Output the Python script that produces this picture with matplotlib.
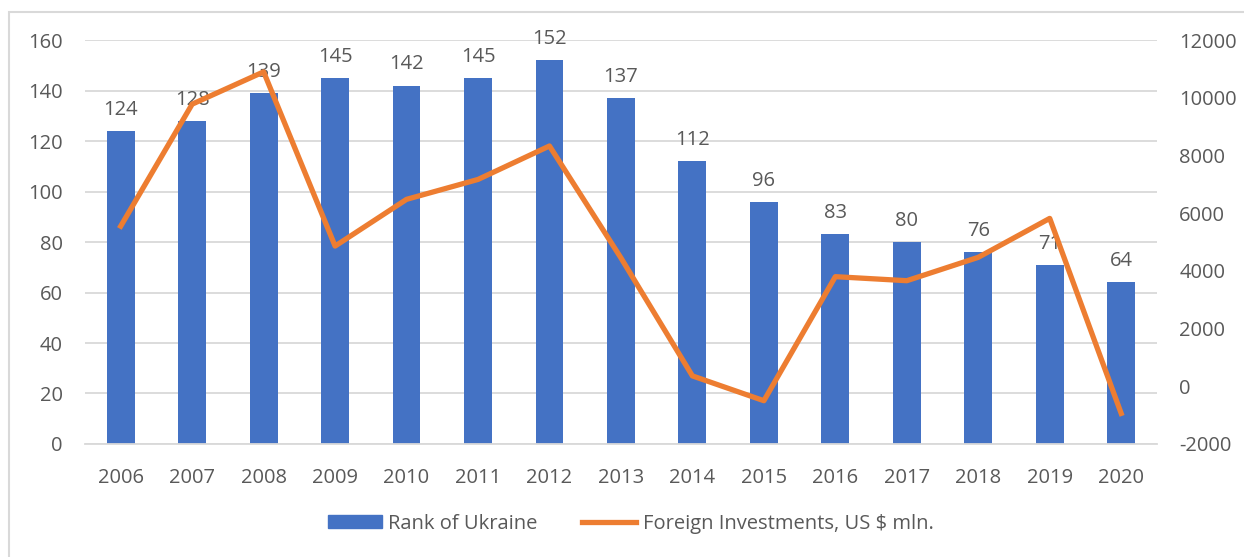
import matplotlib.pyplot as plt
from matplotlib.patches import Rectangle
from matplotlib.lines import Line2D

years = ['2006', '2007', '2008', '2009', '2010', '2011', '2012', '2013',
         '2014', '2015', '2016', '2017', '2018', '2019', '2020']
rank = [124, 128, 139, 145, 142, 145, 152, 137, 112, 96, 83, 80, 76, 71, 64]
invest = [5550, 9780, 10900, 4860, 6480, 7170, 8330, 4450,
          360, -500, 3800, 3660, 4470, 5820, -940]

blue = '#4472C4'
orange = '#ED7D31'
txt = '#595959'
grid = '#D9D9D9'
fs = 14.5

plt.rcParams['font.family'] = ['Open Sans', 'DejaVu Sans']
plt.rcParams['axes.unicode_minus'] = False

fig = plt.figure(figsize=(12.44, 5.57), dpi=100)
ax = fig.add_axes([0.0683, 0.2029, 0.8617, 0.7251])
ax2 = ax.twinx()

x = list(range(len(years)))
ax.bar(x, rank, width=0.39, color=blue, zorder=2)
for xi, v in zip(x, rank):
    ax.annotate(str(v), (xi, v), xytext=(0, 8), textcoords='offset points',
                ha='center', va='bottom', fontsize=fs, color=txt)

ax2.plot(x, invest, color=orange, lw=3.8, solid_joinstyle='round', zorder=3)

ax.set_xlim(-0.5, len(years) - 0.5)
ax.set_ylim(0, 160)
ax.set_yticks(range(0, 161, 20))
ax2.set_ylim(-2000, 12000)
ax2.set_yticks(range(-2000, 12001, 2000))
ax.set_xticks(x)
ax.set_xticklabels(years)
ax.yaxis.grid(True, color=grid, lw=1.3, zorder=0)
ax.set_axisbelow(True)

for a in (ax, ax2):
    for s in a.spines.values():
        s.set_visible(False)
    a.tick_params(length=0, labelsize=fs, colors=txt)
ax.spines['bottom'].set_visible(True)
ax.spines['bottom'].set_color(grid)
ax.spines['bottom'].set_linewidth(1.3)
ax.tick_params(axis='x', pad=17)
ax.tick_params(axis='y', pad=16)
ax2.tick_params(axis='y', pad=16)

handles = [Rectangle((0, 0), 1, 1, color=blue),
           Line2D([0], [0], color=orange, lw=3.8)]
fig.legend(handles, ['Rank of Ukraine', 'Foreign Investments, US $ mln.'],
           loc='center', bbox_to_anchor=(0.507, 0.06), ncol=2, frameon=False,
           fontsize=fs, labelcolor=txt, handlelength=2.7, handleheight=0.6,
           columnspacing=2.2, handletextpad=0.3)

fig.patches.append(Rectangle((9 / 1244, -0.1), 1.2, 1.1 - 12 / 557,
                             transform=fig.transFigure, fill=False,
                             edgecolor=grid, lw=1.5))

fig.savefig('out.png', dpi=100)
